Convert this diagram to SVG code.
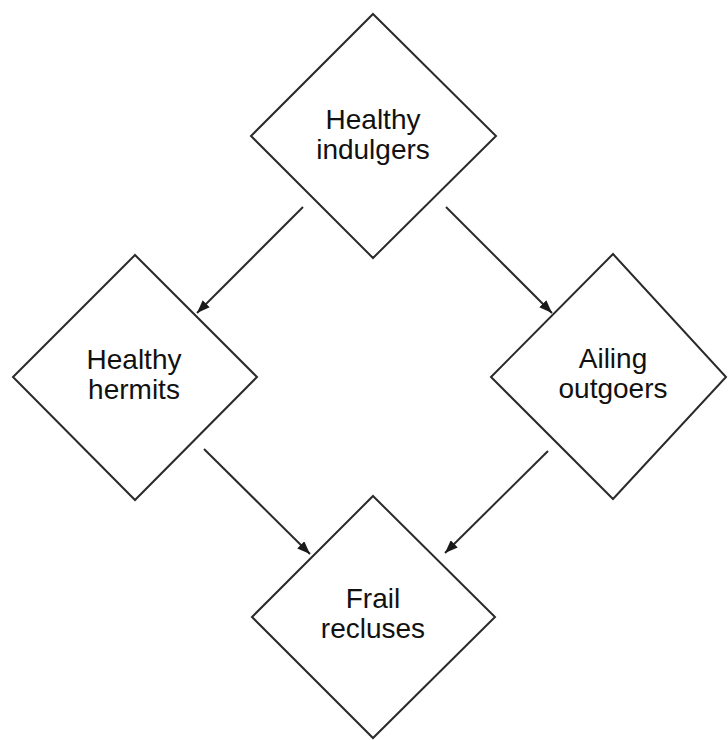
<svg xmlns="http://www.w3.org/2000/svg" width="728" height="740" viewBox="0 0 728 740">
<style>
.node{fill:#fff;stroke:#2a2a2a;stroke-width:2}
.lbl{font-family:"Liberation Sans",Arial,sans-serif;font-size:28px;fill:#111;text-anchor:middle}
.edge{stroke:#2a2a2a;stroke-width:2;fill:none;marker-end:url(#arr)}
</style>
<defs>
<marker id="arr" markerUnits="userSpaceOnUse" markerWidth="14" markerHeight="10" refX="13" refY="5" orient="auto">
<path d="M0,0 L13,5 L0,10 z" fill="#1a1a1a"/>
</marker>
</defs>
<rect width="728" height="740" fill="#fff"/>
<g id="n-indulgers">
<polygon class="node" points="373,14 496,136 373,258 251,136"/>
<text class="lbl" x="373" y="129">Healthy</text>
<text class="lbl" x="373" y="159">indulgers</text>
</g>
<g id="n-hermits">
<polygon class="node" points="135,255 257,377 135,500 13,377"/>
<text class="lbl" x="134" y="369">Healthy</text>
<text class="lbl" x="134" y="399">hermits</text>
</g>
<g id="n-outgoers">
<polygon class="node" points="613,254 726,377 613,499 491,377"/>
<text class="lbl" x="613" y="368">Ailing</text>
<text class="lbl" x="613" y="398">outgoers</text>
</g>
<g id="n-recluses">
<polygon class="node" points="373,496 495,617 373,738 252,617"/>
<text class="lbl" x="373" y="608">Frail</text>
<text class="lbl" x="373" y="638">recluses</text>
</g>
<g id="edges">
<line class="edge" x1="303" y1="207" x2="197" y2="313"/>
<line class="edge" x1="446" y1="207" x2="552" y2="313"/>
<line class="edge" x1="204" y1="449" x2="310" y2="554"/>
<line class="edge" x1="548" y1="451" x2="445" y2="553"/>
</g>
</svg>
